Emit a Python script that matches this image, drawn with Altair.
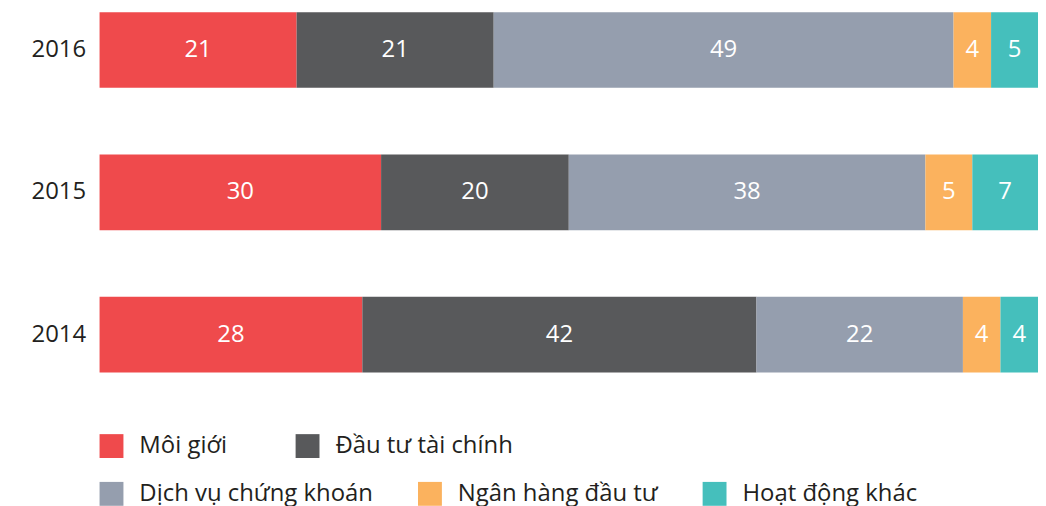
import altair as alt
import pandas as pd

years = ["2016", "2015", "2014"]
series = ["Môi giới", "Đầu tư tài chính", "Dịch vụ chứng khoán", "Ngân hàng đầu tư", "Hoạt động khác"]
colors = ["#EF4A4C", "#58595B", "#959EAE", "#FBB25E", "#45BFBC"]
values = {
    "2016": [21, 21, 49, 4, 5],
    "2015": [30, 20, 38, 5, 7],
    "2014": [28, 42, 22, 4, 4],
}

rows = []
for y in years:
    for i, s in enumerate(series):
        rows.append({"year": y, "series": s, "order": i, "value": values[y][i]})
df = pd.DataFrame(rows)

FONT = "Open Sans"
TXT = "#231F20"

base = alt.Chart(df).transform_stack(
    stack="value",
    groupby=["year"],
    sort=[alt.SortField("order", order="ascending")],
    as_=["x0", "x1"],
).transform_calculate(mid="(datum.x0 + datum.x1) / 2")

xenc = alt.X("x0:Q", scale=alt.Scale(domain=[0, 100], nice=False, zero=True), axis=None)
yenc = alt.Y(
    "year:N",
    sort=years,
    title=None,
    scale=alt.Scale(paddingInner=0.4685, paddingOuter=0),
    axis=alt.Axis(domain=False, ticks=False, labelFont=FONT, labelFontSize=24,
                  labelColor=TXT, labelPadding=14),
)

def legend(cols, ly, pad):
    return alt.Legend(
        title=None, orient="none", legendX=0, legendY=ly, direction="horizontal",
        columns=cols, symbolType="square", symbolSize=576, symbolStrokeWidth=0,
        symbolOpacity=1, labelFont=FONT, labelFontSize=24, labelColor=TXT,
        labelOffset=16, columnPadding=pad, labelLimit=500, padding=0,
    )

layer_a = base.transform_filter("datum.order < 2").mark_bar().encode(
    x=xenc, x2="x1:Q", y=yenc,
    color=alt.Color("series:N", scale=alt.Scale(domain=series[:2], range=colors[:2]),
                    legend=legend(2, 424, 68)),
)
layer_b = base.transform_filter("datum.order >= 2").mark_bar().encode(
    x=xenc, x2="x1:Q", y=yenc,
    fill=alt.Fill("series:N", scale=alt.Scale(domain=series[2:], range=colors[2:]),
                  legend=legend(3, 472, 45)),
)
labels = base.mark_text(color="white", font=FONT, fontSize=24).encode(
    x="mid:Q", y=alt.Y("year:N", sort=years), text="value:Q",
)

chart = alt.layer(layer_a, layer_b, labels).properties(
    width=943, height=362,
    autosize=alt.AutoSizeParams(type="none"),
    padding={"left": 92, "top": 3, "right": 0, "bottom": 133},
).configure_view(stroke=None)

chart.save("out.html", embed_options={"renderer": "svg", "actions": False})
